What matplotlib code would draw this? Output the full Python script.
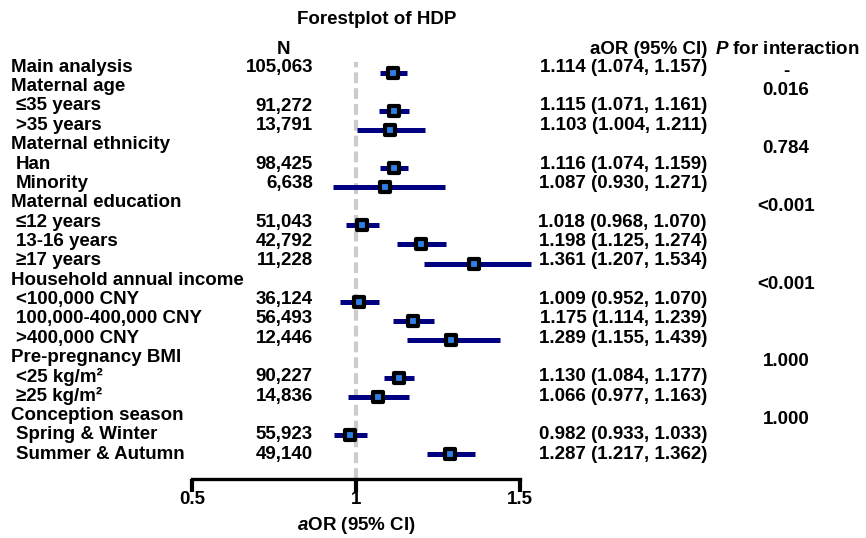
import matplotlib
matplotlib.use("Agg")
import matplotlib.pyplot as plt
from matplotlib.markers import MarkerStyle
from matplotlib.transforms import blended_transform_factory

plt.rcParams['font.family'] = ['Liberation Sans', 'DejaVu Sans']
plt.rcParams['font.weight'] = 'bold'
plt.rcParams['axes.labelweight'] = 'bold'
plt.rcParams['mathtext.fontset'] = 'custom'
plt.rcParams['mathtext.it'] = 'Liberation Sans:italic:bold'
plt.rcParams['mathtext.rm'] = 'Liberation Sans:bold'
plt.rcParams['mathtext.bf'] = 'Liberation Sans:bold'

# ---------------- data ----------------
labels = ["Main analysis", "Maternal age", "≤35 years", ">35 years",
          "Maternal ethnicity", "Han", "Minority",
          "Maternal education", "≤12 years", "13-16 years", "≥17 years",
          "Household annual income", "<100,000 CNY", "100,000-400,000 CNY", ">400,000 CNY",
          "Pre-pregnancy BMI", "<25 kg/m²", "≥25 kg/m²",
          "Conception season", "Spring & Winter", "Summer & Autumn"]
is_group = [True, True, False, False,
            True, False, False,
            True, False, False, False,
            True, False, False, False,
            True, False, False,
            True, False, False]
n_values = ["105,063", "", "91,272", "13,791",
            "", "98,425", "6,638",
            "", "51,043", "42,792", "11,228",
            "", "36,124", "56,493", "12,446",
            "", "90,227", "14,836",
            "", "55,923", "49,140"]
aor = [1.114, None, 1.115, 1.103,
       None, 1.116, 1.087,
       None, 1.018, 1.198, 1.361,
       None, 1.009, 1.175, 1.289,
       None, 1.130, 1.066,
       None, 0.982, 1.287]
ci_low = [1.074, None, 1.071, 1.004,
          None, 1.074, 0.930,
          None, 0.968, 1.125, 1.207,
          None, 0.952, 1.114, 1.155,
          None, 1.084, 0.977,
          None, 0.933, 1.217]
ci_high = [1.157, None, 1.161, 1.211,
           None, 1.159, 1.271,
           None, 1.070, 1.274, 1.534,
           None, 1.070, 1.239, 1.439,
           None, 1.177, 1.163,
           None, 1.033, 1.362]
p_interaction = ["-", "0.016", "", "",
                 "0.784", "", "",
                 "<0.001", "", "", "",
                 "<0.001", "", "", "",
                 "1.000", "", "",
                 "1.000", "", ""]
x_ticks = [0.5, 1, 1.5]
x_tick_labels = ["0.5", "1", "1.5"]

# ---------------- layout ----------------
W, H = 866, 538
FS = 13.5
fig = plt.figure(figsize=(W / 100, H / 100), dpi=100)

def fx(px):
    return px / W

def fy(py):
    return 1 - py / H

ax_left, ax_right = 192, 520
ax_top, ax_bottom = 62, 479
ax = fig.add_axes([fx(ax_left), fy(ax_bottom), fx(ax_right - ax_left), (ax_bottom - ax_top) / H])

row0, row_step = 73, 19.05          # marker rows (pixels)
text0, text_step = 67.3, 19.35      # text rows (pixels)
n_rows = len(labels)
ax.set_ylim((ax_bottom - row0) / row_step, (ax_top - row0) / row_step)
ax.set_xlim(0.5, 1.5)

def text_row(i, extra=0.0):
    return (text0 + i * text_step + extra - row0) / row_step

# reference line
ax.axvline(1, color="#cccccc", lw=3, dashes=(2.6, 1.2), zorder=1)

marker = MarkerStyle("s", joinstyle="round")
for i in range(n_rows):
    if aor[i] is None:
        continue
    ax.plot([ci_low[i], ci_high[i]], [i, i], color="#000080", lw=3.6,
            solid_capstyle="butt", zorder=2, clip_on=False)
    ax.plot([aor[i]], [i], marker=marker, markersize=7.8, markeredgewidth=3.0,
            markerfacecolor="#2f7fe8", markeredgecolor="black", zorder=3, clip_on=False)

for s in ["top", "right", "left"]:
    ax.spines[s].set_visible(False)
ax.spines["bottom"].set_linewidth(2.4)
ax.spines["bottom"].set_capstyle("projecting")
ax.set_yticks([])
ax.set_xticks(x_ticks)
ax.set_xticklabels(x_tick_labels, fontweight="bold")
ax.tick_params(axis="x", direction="out", length=9, width=3, labelsize=FS, pad=0)
ax.set_xlabel("$a$OR (95% CI)", fontsize=FS, fontweight="bold", labelpad=5)

trans = blended_transform_factory(fig.transFigure, ax.transData)

for i in range(n_rows):
    xl = 11 if is_group[i] else 16
    ax.text(fx(xl), text_row(i), labels[i], transform=trans, ha="left", va="center",
            fontsize=FS, clip_on=False)
    if n_values[i]:
        ax.text(fx(313), text_row(i), n_values[i], transform=trans, ha="right", va="center",
                fontsize=FS, clip_on=False)
    if aor[i] is not None:
        txt = f"{aor[i]:.3f} ({ci_low[i]:.3f}, {ci_high[i]:.3f})"
        ax.text(fx(707), text_row(i), txt, transform=trans, ha="right", va="center",
                fontsize=FS, clip_on=False)
    if p_interaction[i]:
        ax.text(fx(786), text_row(i, 4), p_interaction[i], transform=trans, ha="center",
                va="center", fontsize=FS, clip_on=False)

# headers
fig.text(fx(283), fy(50), "N", ha="center", va="center", fontsize=FS)
fig.text(fx(707), fy(50), "aOR (95% CI)", ha="right", va="center", fontsize=FS)
fig.text(fx(787), fy(50), "$P$ for interaction", ha="center", va="center", fontsize=FS)
fig.text(fx(297), fy(19), "Forestplot of HDP", ha="left", va="center", fontsize=FS)

fig.savefig("out.png", dpi=100)
